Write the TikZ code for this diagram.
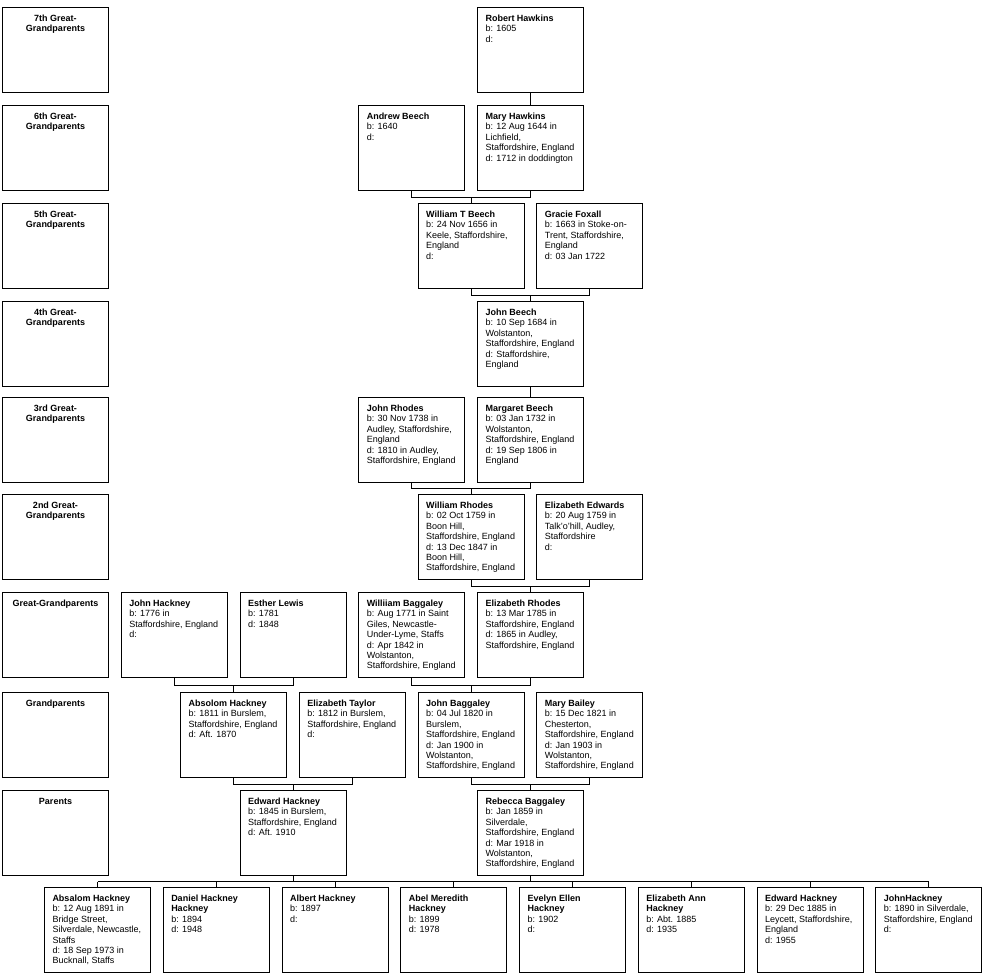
\documentclass[tikz,border=0pt]{standalone}
\usepackage{fontspec}
\setmainfont{Liberation Sans}
\usetikzlibrary{calc}
\newcommand\pinfo[2]{\parbox[t][85pt][t]{106pt}{\leftskip=8pt\rightskip=0pt plus 1fil\parindent=0pt\parfillskip=0pt plus 1fil\fontsize{9}{10.4}\selectfont\textbf{\rule{0pt}{14pt}#1}\par #2}}
\newcommand\glabel[1]{\parbox[t][85pt][t]{106pt}{\centering\fontsize{9}{10.4}\selectfont\bfseries\rule{0pt}{14pt}#1}}
\newcommand\couple[3]{%
  \path (#1.south) -- (#1.south |- #3.north) coordinate[midway] (m#3);
  \draw[link] (#1.south) -- (#1.south |- m#3) -| (#2.south);
  \draw[link] (#3.north) -- (#3.north |- m#3);
}
\tikzset{
  box/.style={draw, line width=1pt, inner sep=0pt, anchor=north west, rectangle},
  link/.style={line width=1pt}
}
\begin{document}
\begin{tikzpicture}[x=1pt,y=-1pt]
\useasboundingbox (0,0) rectangle (991,977);
% generation labels
\node[box] (l7) at (2,7) {\glabel{7th Great-\\Grandparents}};
\node[box] (l6) at (2,105) {\glabel{6th Great-\\Grandparents}};
\node[box] (l5) at (2,203) {\glabel{5th Great-\\Grandparents}};
\node[box] (l4) at (2,301) {\glabel{4th Great-\\Grandparents}};
\node[box] (l3) at (2,397) {\glabel{3rd Great-\\Grandparents}};
\node[box] (l2) at (2,494) {\glabel{2nd Great-\\Grandparents}};
\node[box] (lgg) at (2,592) {\glabel{Great-Grandparents}};
\node[box] (lg) at (2,692) {\glabel{Grandparents}};
\node[box] (lp) at (2,790) {\glabel{Parents}};
% row 7
\node[box] (robert) at (477,7) {\pinfo{Robert Hawkins}{b: 1605\\d:}};
% row 6
\node[box] (andrew) at (358.25,105) {\pinfo{Andrew Beech}{b: 1640\\d:}};
\node[box] (maryh) at (477,105) {\pinfo{Mary Hawkins}{b: 12 Aug 1644 in\\Lichfield,\\Staffordshire, England\\d: 1712 in doddington}};
% row 5
\node[box] (wtbeech) at (417.625,203) {\pinfo{William T Beech}{b: 24 Nov 1656 in\\Keele, Staffordshire,\\England\\d:}};
\node[box] (gracie) at (536.375,203) {\pinfo{Gracie Foxall}{b: 1663 in Stoke-on-\\Trent, Staffordshire,\\England\\d: 03 Jan 1722}};
% row 4
\node[box] (jbeech) at (477,301) {\pinfo{John Beech}{b: 10 Sep 1684 in\\Wolstanton,\\Staffordshire, England\\d: Staffordshire,\\England}};
% row 3
\node[box] (jrhodes) at (358.25,397) {\pinfo{John Rhodes}{b: 30 Nov 1738 in\\Audley, Staffordshire,\\England\\d: 1810 in Audley,\\Staffordshire, England}};
\node[box] (margaret) at (477,397) {\pinfo{Margaret Beech}{b: 03 Jan 1732 in\\Wolstanton,\\Staffordshire, England\\d: 19 Sep 1806 in\\England}};
% row 2
\node[box] (wrhodes) at (417.625,494) {\pinfo{William Rhodes}{b: 02 Oct 1759 in\\Boon Hill,\\Staffordshire, England\\d: 13 Dec 1847 in\\Boon Hill,\\Staffordshire, England}};
\node[box] (eedwards) at (536.375,494) {\pinfo{Elizabeth Edwards}{b: 20 Aug 1759 in\\Talk'o'hill, Audley,\\Staffordshire\\d:}};
% great-grandparents
\node[box] (jhackney) at (120.75,592) {\pinfo{John Hackney}{b: 1776 in\\Staffordshire, England\\d:}};
\node[box] (esther) at (239.5,592) {\pinfo{Esther Lewis}{b: 1781\\d: 1848}};
\node[box] (wbaggaley) at (358.25,592) {\pinfo{Williiam Baggaley}{b: Aug 1771 in Saint\\Giles, Newcastle-\\Under-Lyme, Staffs\\d: Apr 1842 in\\Wolstanton,\\Staffordshire, England}};
\node[box] (erhodes) at (477,592) {\pinfo{Elizabeth Rhodes}{b: 13 Mar 1785 in\\Staffordshire, England\\d: 1865 in Audley,\\Staffordshire, England}};
% grandparents
\node[box] (absolom) at (180.125,692) {\pinfo{Absolom Hackney}{b: 1811 in Burslem,\\Staffordshire, England\\d: Aft. 1870}};
\node[box] (etaylor) at (298.875,692) {\pinfo{Elizabeth Taylor}{b: 1812 in Burslem,\\Staffordshire, England\\d:}};
\node[box] (jbaggaley) at (417.625,692) {\pinfo{John Baggaley}{b: 04 Jul 1820 in\\Burslem,\\Staffordshire, England\\d: Jan 1900 in\\Wolstanton,\\Staffordshire, England}};
\node[box] (mbailey) at (536.375,692) {\pinfo{Mary Bailey}{b: 15 Dec 1821 in\\Chesterton,\\Staffordshire, England\\d: Jan 1903 in\\Wolstanton,\\Staffordshire, England}};
% parents
\node[box] (edward) at (239.5,790) {\pinfo{Edward Hackney}{b: 1845 in Burslem,\\Staffordshire, England\\d: Aft. 1910}};
\node[box] (rebecca) at (477,790) {\pinfo{Rebecca Baggaley}{b: Jan 1859 in\\Silverdale,\\Staffordshire, England\\d: Mar 1918 in\\Wolstanton,\\Staffordshire, England}};
% children
\node[box] (c1) at (44,887) {\pinfo{Absalom Hackney}{b: 12 Aug 1891 in\\Bridge Street,\\Silverdale, Newcastle,\\Staffs\\d: 18 Sep 1973 in\\Bucknall, Staffs}};
\node[box] (c2) at (162.75,887) {\pinfo{Daniel Hackney\\Hackney}{b: 1894\\d: 1948}};
\node[box] (c3) at (281.5,887) {\pinfo{Albert Hackney}{b: 1897\\d:}};
\node[box] (c4) at (400.25,887) {\pinfo{Abel Meredith\\Hackney}{b: 1899\\d: 1978}};
\node[box] (c5) at (519,887) {\pinfo{Evelyn Ellen\\Hackney}{b: 1902\\d:}};
\node[box] (c6) at (637.75,887) {\pinfo{Elizabeth Ann\\Hackney}{b: Abt. 1885\\d: 1935}};
\node[box] (c7) at (756.5,887) {\pinfo{Edward Hackney}{b: 29 Dec 1885 in\\Leycett, Staffordshire,\\England\\d: 1955}};
\node[box] (c8) at (875.25,887) {\pinfo{JohnHackney}{b: 1890 in Silverdale,\\Staffordshire, England\\d:}};
% connectors
\draw[link] (robert.south) -- (maryh.north);
\couple{andrew}{maryh}{wtbeech}
\couple{wtbeech}{gracie}{jbeech}
\draw[link] (jbeech.south) -- (margaret.north);
\couple{jrhodes}{margaret}{wrhodes}
\couple{wrhodes}{eedwards}{erhodes}
\couple{jhackney}{esther}{absolom}
\couple{wbaggaley}{erhodes}{jbaggaley}
\couple{absolom}{etaylor}{edward}
\couple{jbaggaley}{mbailey}{rebecca}
\path (edward.south) -- (edward.south |- c1.north) coordinate[midway] (cb);
\draw[link] (c1.north |- cb) -- (c8.north |- cb);
\draw[link] (edward.south) -- (edward.south |- cb);
\draw[link] (rebecca.south) -- (rebecca.south |- cb);
\foreach \i in {1,...,8} { \draw[link] (c\i.north) -- (c\i.north |- cb); }
\end{tikzpicture}
\end{document}
